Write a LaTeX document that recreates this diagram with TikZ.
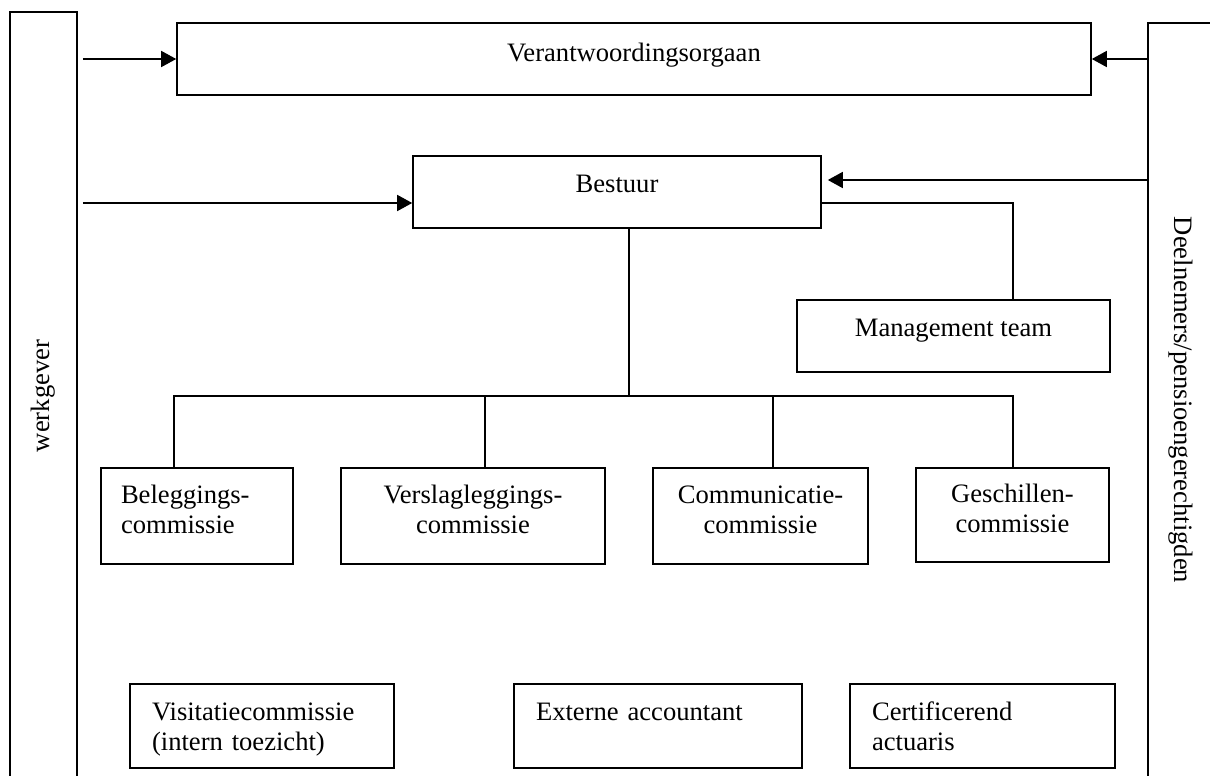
\documentclass[tikz,border=0pt]{standalone}
\usepackage{fontspec}
\setmainfont{Liberation Serif}
\usepackage{graphicx}
\usepackage{tikz}
\usetikzlibrary{arrows.meta}

\begin{document}
\begin{tikzpicture}
  [x=1pt,y=-1pt,line width=1.6pt,
   every node/.style={draw,rectangle,inner sep=0pt,font=\fontsize{26.6}{30}\selectfont},
   pijl/.style={-{Triangle[length=15pt,width=16pt]}},
   enkel/.style={text height=18pt,text depth=18pt,minimum height=72pt},
   commissie/.style={align=center,inner xsep=20pt,text height=18pt,text depth=44pt,minimum height=96pt},
   links/.style={align=left},
   onder/.style={align=left,inner xsep=22pt,text height=18pt,text depth=30pt,minimum height=84pt}]
  \useasboundingbox (0,0) rectangle (1210,776);
  \clip (0,0) rectangle (1210,776);
  \node[minimum width=67pt,minimum height=768pt] (wg) at (43.5,396) {\rotatebox{90}{werkgever}};
  \node[minimum width=66pt,minimum height=754pt] (dn) at (1181,400) {\rotatebox{-90}{Deelnemers/pensioengerechtigden}};
  \node[enkel,text depth=12pt,minimum width=914pt] (verant) at (634,59) {Verantwoordingsorgaan};
  \node[enkel,minimum width=408pt] (bestuur) at (617,192) {Bestuur};
  \node[enkel,minimum width=313pt] (mteam) at (953.5,336) {Management team};
  \node[commissie,links,text width=152pt,minimum width=192pt] (beleg) at (197,516) {Beleggings-\\commissie};
  \node[commissie,text width=224pt,minimum width=264pt] (verslag) at (473,516) {Verslagleggings-\\commissie};
  \node[commissie,text width=175pt,minimum width=215pt] (commu) at (760.5,516) {Communicatie-\\commissie};
  \node[commissie,text width=153pt,minimum width=193pt,minimum height=94pt] (gesch) at (1012.5,515) {Geschillen-\\commissie};
  \node[onder,text width=220pt,minimum width=264pt] (visit) at (262,726) {Visitatiecommissie\\(intern toezicht)};
  \node[onder,text width=244pt,minimum width=288pt] (extacc) at (658,726) {Externe accountant};
  \node[onder,text width=221pt,minimum width=265pt] (cert) at (982.5,726) {Certificerend\\actuaris};
  \coordinate (mt) at (1013,203);
  \coordinate (b1) at ([yshift=12pt]bestuur.east);
  \coordinate (bus) at (629,396);
  \coordinate (t1) at (174,396);
  \coordinate (t2) at (485,396);
  \coordinate (t3) at (773,396);
  \coordinate (t4) at (1013,396);
  \draw[pijl,shorten <=5pt] (wg.east |- verant.west) -- (verant.west);
  \draw[pijl] (dn.west |- verant.east) -- (verant.east);
  \draw[pijl,shorten <=5pt] (wg.east |- mt) -- (bestuur.west |- mt);
  \draw[pijl,shorten >=6pt] (dn.west |- b1) -- (b1);
  \draw (bestuur.east |- mt) -- (mt) -- (mt |- mteam.north);
  \draw (bestuur.south -| bus) -- (bus);
  \draw (t1 |- beleg.north) -- (t1) -- (t4) -- (t4 |- gesch.north);
  \foreach \t/\n in {t2/verslag,t3/commu}
    \draw (\t) -- (\t |- \n.north);
\end{tikzpicture}
\end{document}
